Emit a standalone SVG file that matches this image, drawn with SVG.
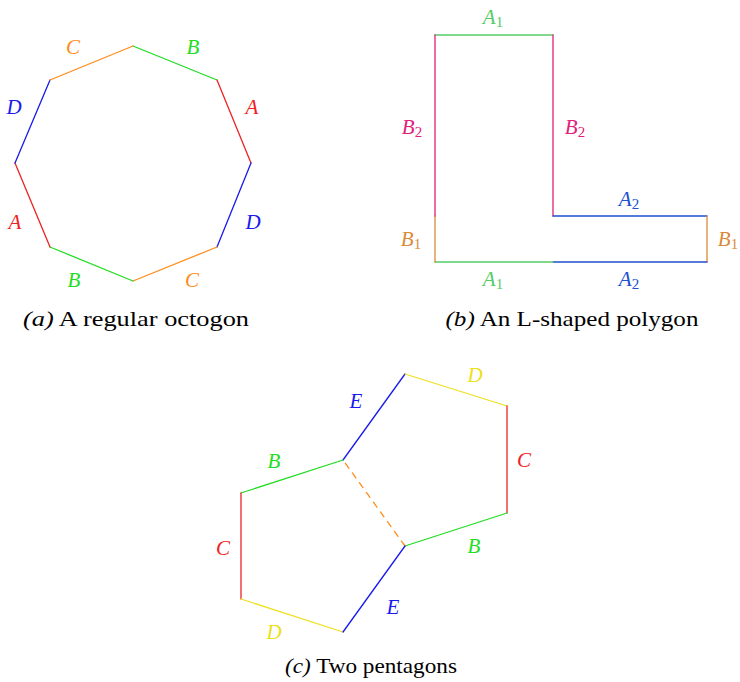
<svg xmlns="http://www.w3.org/2000/svg" width="740" height="682" viewBox="0 0 740 682">
<defs>
<style type="text/css">
.e{fill:none;stroke-width:1.3;stroke-linecap:round}
.gr{stroke:#22dd22}.gt{fill:#22dd22}
.rd{stroke:#ee2222}.rt{fill:#ee2222}
.bl{stroke:#1a1aee}.bt{fill:#1a1aee}
.or{stroke:#ff8c1a}.ot{fill:#ff8c1a}
.ye{stroke:#eee020}.yt{fill:#eee020}
.lg{stroke:#55cc66}.lgt{fill:#55cc66}
.mg{stroke:#e0207a}.mgt{fill:#e0207a}
.br{stroke:#d98a3a}.brt{fill:#d98a3a}
.lb{stroke:#2050d0}.lbt{fill:#2050d0}
</style>
</defs>
<rect width="740" height="682" fill="#fff"/>
<g id="octagon">
<line class="e gr" x1="133" y1="46" x2="217" y2="80"/>
<line class="e rd" x1="217" y1="80" x2="251" y2="163"/>
<line class="e bl" x1="251" y1="163" x2="217" y2="247"/>
<line class="e or" x1="217" y1="247" x2="133" y2="281"/>
<line class="e gr" x1="133" y1="281" x2="50" y2="247"/>
<line class="e rd" x1="50" y1="247" x2="15" y2="163"/>
<line class="e bl" x1="15" y1="163" x2="50" y2="80"/>
<line class="e or" x1="50" y1="80" x2="133" y2="46"/>
<g font-family="Liberation Serif, serif" font-style="italic" font-size="21" text-anchor="middle">
<text class="ot" x="73" y="54">C</text>
<text class="gt" x="193" y="54">B</text>
<text class="rt" x="252" y="114">A</text>
<text class="bt" x="14" y="114">D</text>
<text class="rt" x="15" y="229">A</text>
<text class="bt" x="253" y="229">D</text>
<text class="gt" x="74" y="287">B</text>
<text class="ot" x="192" y="287">C</text>
</g>
<text font-family="Liberation Serif, serif" font-size="22" text-anchor="middle" x="136" y="326" textLength="226" lengthAdjust="spacingAndGlyphs"><tspan font-style="italic">(a)</tspan> A regular octogon</text>
</g>
<g id="lshape">
<line class="e lg" x1="435" y1="35" x2="553" y2="35"/>
<line class="e mg" x1="553" y1="35" x2="553" y2="216"/>
<line class="e lb" x1="553" y1="216" x2="707" y2="216"/>
<line class="e br" x1="707" y1="216" x2="707" y2="262"/>
<line class="e lb" x1="707" y1="262" x2="553" y2="262"/>
<line class="e lg" x1="553" y1="262" x2="435" y2="262"/>
<line class="e br" x1="435" y1="262" x2="435" y2="216"/>
<line class="e mg" x1="435" y1="216" x2="435" y2="35"/>
<g font-family="Liberation Serif, serif" font-style="italic" font-size="21" text-anchor="middle">
<text class="lgt" x="493" y="24">A<tspan font-style="normal" font-size="15" dy="3">1</tspan></text>
<text class="mgt" x="412" y="134">B<tspan font-style="normal" font-size="15" dy="3">2</tspan></text>
<text class="mgt" x="575" y="134">B<tspan font-style="normal" font-size="15" dy="3">2</tspan></text>
<text class="lbt" x="629" y="206">A<tspan font-style="normal" font-size="15" dy="3">2</tspan></text>
<text class="brt" x="411" y="246">B<tspan font-style="normal" font-size="15" dy="3">1</tspan></text>
<text class="brt" x="728" y="246">B<tspan font-style="normal" font-size="15" dy="3">1</tspan></text>
<text class="lgt" x="493" y="286">A<tspan font-style="normal" font-size="15" dy="3">1</tspan></text>
<text class="lbt" x="629" y="286">A<tspan font-style="normal" font-size="15" dy="3">2</tspan></text>
</g>
<text font-family="Liberation Serif, serif" font-size="22" text-anchor="middle" x="572" y="326" textLength="253" lengthAdjust="spacingAndGlyphs"><tspan font-style="italic">(b)</tspan> An L-shaped polygon</text>
</g>
<g id="pentagons">
<line class="e bl" x1="343" y1="460" x2="405" y2="374"/>
<line class="e ye" x1="405" y1="374" x2="507" y2="406"/>
<line class="e rd" x1="507" y1="406" x2="507" y2="513"/>
<line class="e gr" x1="507" y1="513" x2="405" y2="546"/>
<line class="e or" x1="405" y1="546" x2="343" y2="460" stroke-dasharray="6,6"/>
<line class="e gr" x1="343" y1="460" x2="241" y2="493"/>
<line class="e rd" x1="241" y1="493" x2="241" y2="599"/>
<line class="e ye" x1="241" y1="599" x2="343" y2="632"/>
<line class="e bl" x1="343" y1="632" x2="405" y2="546"/>
<g font-family="Liberation Serif, serif" font-style="italic" font-size="21" text-anchor="middle">
<text class="bt" x="356" y="408">E</text>
<text class="yt" x="475" y="382">D</text>
<text class="rt" x="524" y="467">C</text>
<text class="gt" x="474" y="553">B</text>
<text class="gt" x="274" y="468">B</text>
<text class="rt" x="223" y="555">C</text>
<text class="yt" x="274" y="639">D</text>
<text class="bt" x="393" y="614">E</text>
</g>
<text font-family="Liberation Serif, serif" font-size="22" text-anchor="middle" x="371" y="673" textLength="172" lengthAdjust="spacingAndGlyphs"><tspan font-style="italic">(c)</tspan> Two pentagons</text>
</g>
</svg>
